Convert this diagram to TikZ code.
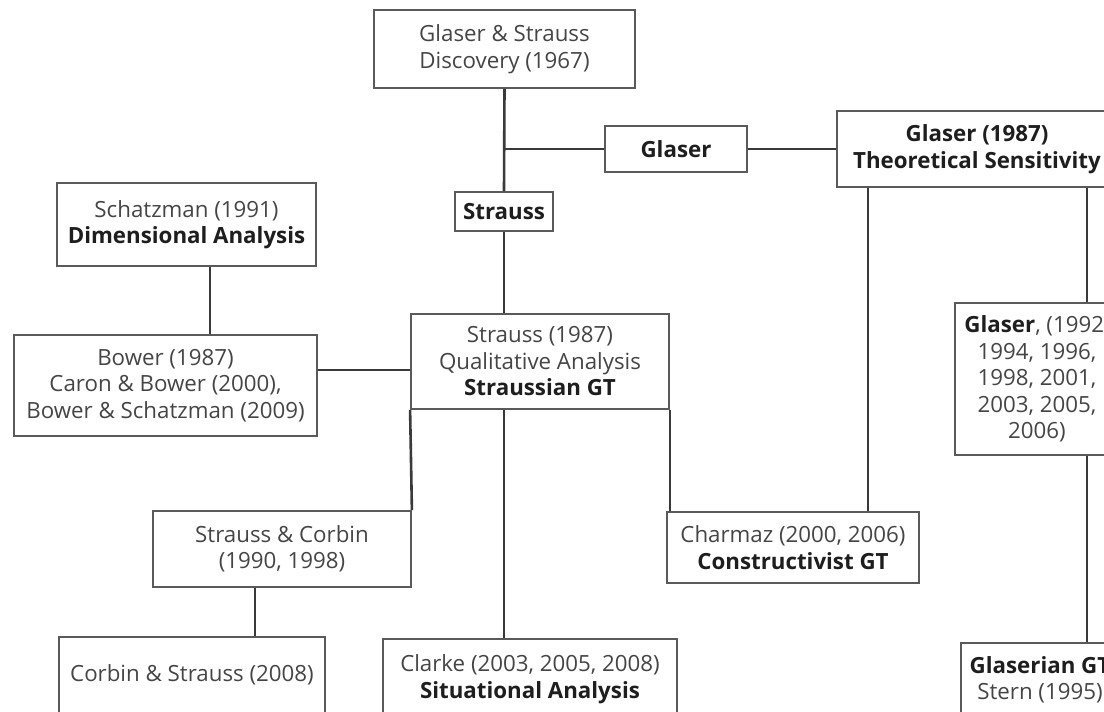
\documentclass[tikz,border=0pt]{standalone}
\usepackage{fontspec}
\setmainfont{Open Sans}
\usetikzlibrary{calc}
\definecolor{txt}{HTML}{454545}
\definecolor{btxt}{HTML}{1E1E1E}
\definecolor{edge}{HTML}{5A5A5A}
\definecolor{conn}{HTML}{3A3A3A}
\begin{document}
\begin{tikzpicture}[x=1pt,y=-1pt,
  box/.style={draw=edge,line width=1.8pt,fill=white,inner sep=0pt,align=center,
    text=txt,font=\fontsize{22.3}{26.5}\selectfont},
  link/.style={draw=conn,line width=2.6pt},
]
\useasboundingbox (0,0) rectangle (1104,712);
\clip (0,0) rectangle (1104,712);
\newcommand{\bx}[1]{\textcolor{btxt}{\bfseries #1}}

\node[box,minimum width=261pt,minimum height=78pt] (top) at (504.5,49) {Glaser \& Strauss\\Discovery (1967)};
\node[box,minimum width=142pt,minimum height=46pt] (glaser) at (676,149) {\bx{Glaser}};
\node[box,minimum width=98pt,minimum height=39pt] (strauss) at (504,211.5) {\bx{Strauss}};
\node[box,minimum width=280pt,minimum height=76pt] (g1987) at (977,149) {\bx{Glaser (1987)}\\\bx{Theoretical Sensitivity}};
\node[box,minimum width=259pt,minimum height=83pt] (schatz) at (186.5,224.5) {Schatzman (1991)\\\bx{Dimensional Analysis}};
\node[box,minimum width=303pt,minimum height=101pt] (bower) at (165.5,385.5) {Bower (1987)\\Caron \& Bower (2000),\\Bower \& Schatzman (2009)};
\node[box,minimum width=258pt,minimum height=95pt] (s1987) at (540,361.5) {Strauss (1987)\\Qualitative Analysis\\\bx{Straussian GT}};
\node[box,minimum width=258pt,minimum height=76pt] (sc) at (282,549) {Strauss \& Corbin\\(1990, 1998)};
\node[box,minimum width=252pt,minimum height=71pt] (charmaz) at (793,547.5) {Charmaz (2000, 2006)\\\bx{Constructivist GT}};
\node[box,minimum width=164pt,minimum height=152pt] (g1992) at (1037,379) {\bx{Glaser}, (1992,\\1994, 1996,\\1998, 2001,\\2003, 2005,\\2006)};
\node[box,minimum width=266pt,minimum height=76pt] (corbin) at (192,675) {Corbin \& Strauss (2008)};
\node[box,minimum width=294pt,minimum height=80pt] (clarke) at (530,679) {Clarke (2003, 2005, 2008)\\\bx{Situational Analysis}};
\node[box,minimum width=158pt,minimum height=74pt] (glaserian) at (1040,680) {\bx{Glaserian GT}\\Stern (1995)};

\draw[link] (top.south) -- (strauss.north);
\draw[link] (top.south |- glaser.west) -- (glaser.west);
\draw[link] (glaser.east) -- (g1987.west);
\draw[link] (strauss.south) -- (strauss.south |- s1987.north);
\draw[link] ($(schatz.south)+(23.5,0)$) -- ($(bower.north)+(44.5,0)$);
\draw[link] ($(bower.east)+(0,-15.5)$) coordinate (b1) -- (b1 -| s1987.west);
\draw[link] (s1987.south west) -- (sc.north east);
\draw[link] ($(s1987.south)+(-36,0)$) coordinate (c1) -- (c1 |- clarke.north);
\draw[link] (s1987.south east) -- (s1987.south east |- charmaz.north);
\draw[link] ($(g1987.south west)+(32,0)$) coordinate (g1) -- (g1 |- charmaz.north);
\draw[link] (g1992.north -| 1087,0) -- (1087,0 |- g1987.south);
\draw[link] (1087,0 |- g1992.south) -- (1087,0 |- glaserian.north);
\draw[link] ($(sc.south)+(-27,0)$) coordinate (s1) -- (s1 |- corbin.north);
\end{tikzpicture}
\end{document}
